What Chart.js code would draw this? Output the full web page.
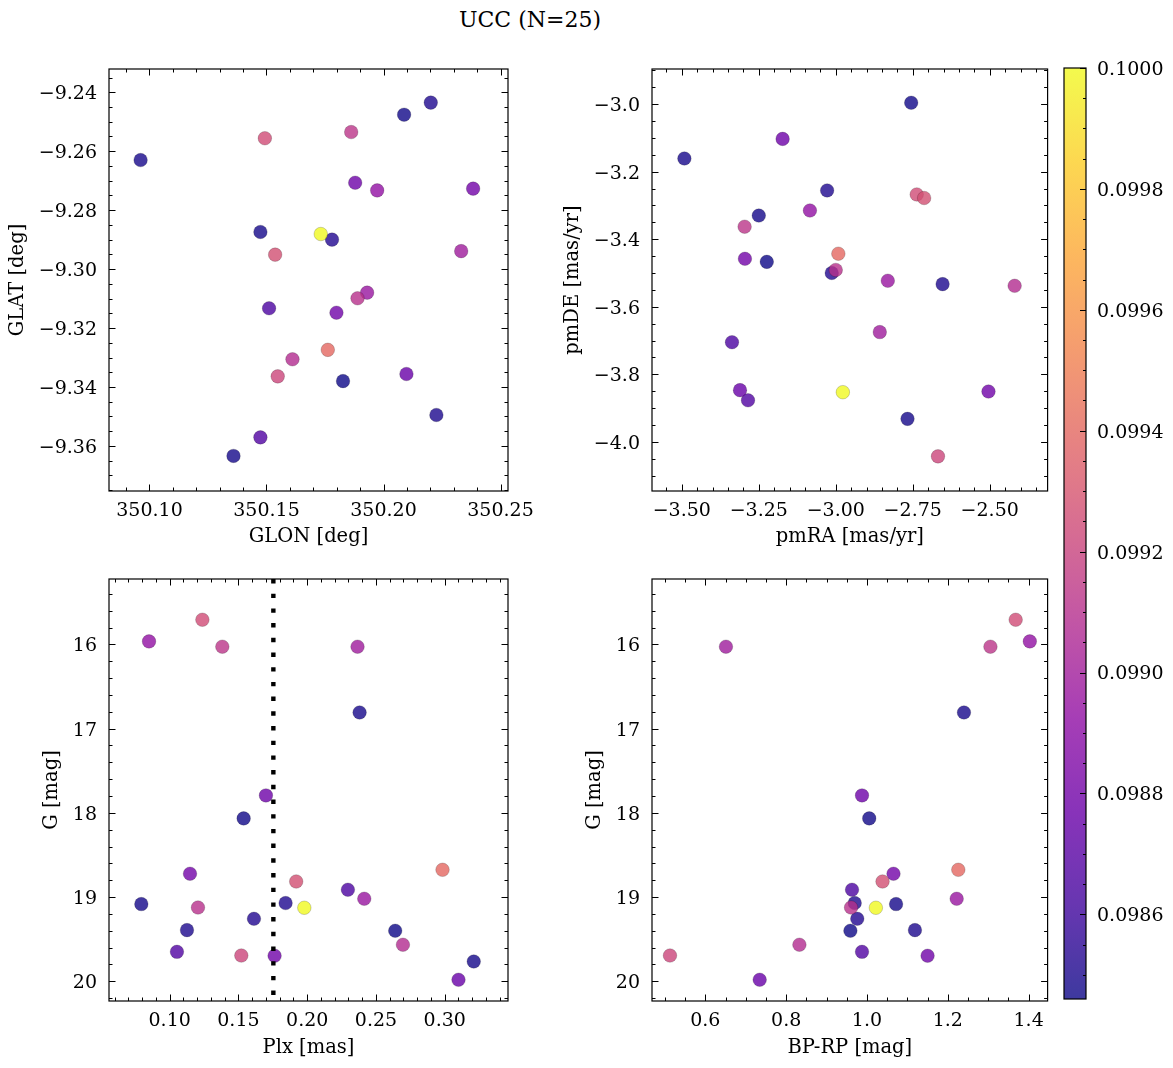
<!DOCTYPE html>
<html><head><meta charset="utf-8">
<script src="https://cdn.jsdelivr.net/npm/chart.js@4/dist/chart.umd.min.js"></script>
<style>
html,body{margin:0;padding:0;background:#fff;}
body{width:1173px;height:1068px;position:relative;overflow:hidden;}
canvas{position:absolute;}
#title{position:absolute;left:380px;width:300px;top:6px;text-align:center;font:22px 'DejaVu Serif';color:#000;line-height:28px;}
</style></head><body>
<div id="title">UCC (N=25)</div>
<canvas id="c1"></canvas>
<canvas id="c2"></canvas>
<canvas id="c3"></canvas>
<canvas id="c4"></canvas>
<canvas id="cb"></canvas>
<script>
// ---------------- DATA (one entry per star, sorted by probability) ----------------
const glon = [350.1827,350.2088,350.1474,350.1359,350.0962,350.2226,350.2202,350.1780,350.1511,350.1474,
              350.2098,350.1879,350.1799,350.2383,350.1973,350.1930,350.2332,350.1611,350.1889,350.1862,
              350.1548,350.1493,350.1537,350.1762,350.1732];
const glat = [-9.3380,-9.2476,-9.2874,-9.3634,-9.2630,-9.3495,-9.2435,-9.2900,-9.3133,-9.3571,
              -9.3356,-9.2707,-9.3148,-9.2727,-9.2733,-9.3080,-9.2939,-9.3306,-9.3099,-9.2535,
              -9.3364,-9.2556,-9.2951,-9.3274,-9.2881];
const pmra = [-3.224,-2.755,-3.250,-2.767,-3.4916,-2.653,-3.028,-3.013,-3.337,-3.285,
              -3.311,-3.1726,-2.504,-3.295,-3.0839,-2.831,-2.857,-2.419,-3.000,-3.296,
              -2.668,-2.737,-2.713,-2.9916,-2.977];
const pmde = [-3.467,-2.996,-3.330,-3.932,-3.161,-3.533,-3.2556,-3.500,-3.705,-3.877,
              -3.847,-3.103,-3.851,-3.458,-3.315,-3.523,-3.675,-3.538,-3.491,-3.363,
              -4.043,-3.2675,-3.278,-3.443,-3.853];
const plx  = [0.2640,0.1538,0.0794,0.3211,0.2381,0.1126,0.1843,0.1613,0.2296,0.1053,
              0.3100,0.1700,0.1763,0.1148,0.0850,0.2415,0.2366,0.2696,0.1206,0.1383,
              0.1521,0.1238,0.1920,0.2984,0.1979];
const gmag = [19.400,18.066,19.083,19.765,16.808,19.392,19.071,19.258,18.913,19.650,
              19.982,17.793,19.697,18.723,15.964,19.020,16.027,19.566,19.124,16.027,
              19.694,15.707,18.815,18.676,19.127];
const bprp = [0.959,1.0056,1.072,null,1.240,1.1187,0.9697,0.976,0.963,0.9877,
              0.7345,0.9877,1.150,1.0656,1.403,1.222,0.651,0.8328,0.9606,1.3055,
              0.5125,1.368,1.0385,1.226,1.022];
const prob = [0.09846,0.09847,0.09848,0.09848,0.09849,0.09850,0.09851,0.09852,0.09865,0.09867,
              0.09876,0.09878,0.09879,0.09880,0.09893,0.09896,0.09899,0.09908,0.09911,0.09913,
              0.09922,0.09925,0.09927,0.09940,0.10000];
const plxCut = 0.1754;

// tick values and labels
const glonTicks = [350.10,350.15,350.20,350.25];
const glonTickLabels = ['350.10','350.15','350.20','350.25'];
const glatTicks = [-9.36,-9.34,-9.32,-9.30,-9.28,-9.26,-9.24];
const glatTickLabels = ['\u22129.36','\u22129.34','\u22129.32','\u22129.30','\u22129.28','\u22129.26','\u22129.24'];
const pmraTicks = [-3.50,-3.25,-3.00,-2.75,-2.50];
const pmraTickLabels = ['\u22123.50','\u22123.25','\u22123.00','\u22122.75','\u22122.50'];
const pmdeTicks = [-4.0,-3.8,-3.6,-3.4,-3.2,-3.0];
const pmdeTickLabels = ['\u22124.0','\u22123.8','\u22123.6','\u22123.4','\u22123.2','\u22123.0'];
const plxTicks = [0.10,0.15,0.20,0.25,0.30];
const plxTickLabels = ['0.10','0.15','0.20','0.25','0.30'];
const gTicks = [16,17,18,19,20];
const gTickLabels = ['16','17','18','19','20'];
const bprpTicks = [0.6,0.8,1.0,1.2,1.4];
const bprpTickLabels = ['0.6','0.8','1.0','1.2','1.4'];
const cbTicks = [0.0986,0.0988,0.0990,0.0992,0.0994,0.0996,0.0998,0.1000];
const cbTickLabels = ['0.0986','0.0988','0.0990','0.0992','0.0994','0.0996','0.0998','0.1000'];

// ---------------- STYLE ----------------
const FONT = 'DejaVu Serif';
const TICK_SIZE = 19, LABEL_SIZE = 19.5;
const ALPHA = 0.8;
const cbMin = 0.09846, cbMax = 0.1000;
const PLASMA = ['#0d0887','#41049d','#6a00a8','#8f0da4','#b12a90','#cc4778','#e16462','#f2844b','#fca636','#fcce25','#f0f921'];
function hex(h){return [parseInt(h.slice(1,3),16),parseInt(h.slice(3,5),16),parseInt(h.slice(5,7),16)];}
function plasma(t, a){
  t = Math.min(1, Math.max(0, t));
  const s = t*10, i = Math.min(9, Math.floor(s)), f = s - i;
  const c0 = hex(PLASMA[i]), c1 = hex(PLASMA[i+1]);
  const c = c0.map((v,k)=>Math.round(v + (c1[k]-v)*f));
  return `rgba(${c[0]},${c[1]},${c[2]},${a})`;
}
const colors = prob.map(p => plasma((p-cbMin)/(cbMax-cbMin), ALPHA));

// frame + inward ticks plugin
const framePlugin = {
  id: 'frame',
  afterDatasetsDraw(chart, args, o) {
    const {ctx, chartArea: a} = chart;
    ctx.save();
    ctx.strokeStyle = '#000';
    ctx.lineWidth = 1;
    const minorVals = (s, step, major) => {
      const out = [];
      const lo = Math.min(s.min, s.max), hi = Math.max(s.min, s.max);
      for (let k = Math.ceil(lo/step - 1e-9); k*step <= hi + 1e-12; k++) {
        const v = k*step;
        if (!major.some(m => Math.abs(m - v) < step*1e-3)) out.push(v);
      }
      return out;
    };
    const drawX = (vals, len) => {
      const s = chart.scales.x;
      vals.forEach(v => {
        const p = Math.round(s.getPixelForValue(v)) + 0.5;
        if (p < a.left || p > a.right) return;
        ctx.beginPath();
        ctx.moveTo(p, a.bottom); ctx.lineTo(p, a.bottom - len);
        ctx.moveTo(p, a.top); ctx.lineTo(p, a.top + len);
        ctx.stroke();
      });
    };
    const drawY = (vals, len, sides) => {
      const s = chart.scales.y;
      vals.forEach(v => {
        const p = Math.round(s.getPixelForValue(v)) + 0.5;
        if (p < a.top || p > a.bottom) return;
        ctx.beginPath();
        if (sides.includes('left')) { ctx.moveTo(a.left, p); ctx.lineTo(a.left + len, p); }
        if (sides.includes('right')) { ctx.moveTo(a.right, p); ctx.lineTo(a.right - len, p); }
        ctx.stroke();
      });
    };
    if (o.xMajor) {
      drawX(o.xMajor, 6.5);
      drawX(minorVals(chart.scales.x, o.xMinor, o.xMajor), 3.5);
    }
    if (o.yMajor) {
      const sides = o.ySides || ['left','right'];
      drawY(o.yMajor, o.yMajorLen || 6.5, sides);
      drawY(minorVals(chart.scales.y, o.yMinor, o.yMajor), o.yMinorLen || 3.5, sides);
    }
    ctx.lineWidth = 1.2;
    ctx.strokeRect(a.left, a.top, a.right - a.left, a.bottom - a.top);
    ctx.restore();
  }
};

function axisTicks(vals, labels, pad, offset) {
  return {
    afterBuildTicks: s => { s.ticks = vals.map(v => ({value: v})); },
    ticks: {
      autoSkip: false, maxRotation: 0, minRotation: 0, padding: pad, color: '#000',
      labelOffset: offset || 0,
      font: {family: FONT, size: TICK_SIZE},
      callback: (v, i) => labels[i]
    }
  };
}

function makePanel(id, g, xs, ys, datasets, frameOpts) {
  const c = document.getElementById(id);
  c.width = g.w; c.height = g.h;
  c.style.left = g.left + 'px'; c.style.top = g.top + 'px';
  const lh = LABEL_SIZE * 1.2;
  const yAxisW = g.area.l - g.left;
  const xAxisH = (g.top + g.h) - g.area.b;
  new Chart(c, {
    type: 'scatter',
    data: {datasets},
    options: {
      responsive: false, animation: false, events: [],
      layout: {padding: {left: 0, top: g.area.t - g.top, right: (g.left + g.w) - g.area.r, bottom: 0}},
      plugins: {legend: {display: false}, tooltip: {enabled: false}, frame: frameOpts},
      scales: {
        x: Object.assign({
          type: 'linear', position: 'bottom', min: xs.min, max: xs.max, bounds: 'data',
          grid: {display: false, drawTicks: false}, border: {display: false},
          afterFit: s => { s.height = xAxisH; s.paddingLeft = 0; s.paddingRight = 0; },
          title: {display: true, text: xs.title, color: '#000', font: {family: FONT, size: LABEL_SIZE},
                  padding: {top: 0, bottom: ((g.top + g.h) - g.xTitleY) - lh/2}}
        }, axisTicks(xs.ticks, xs.labels, 9, 0)),
        y: Object.assign({
          type: 'linear', position: 'left', min: ys.min, max: ys.max, reverse: !!ys.reverse, bounds: 'data',
          grid: {display: false, drawTicks: false}, border: {display: false},
          afterFit: s => { s.width = yAxisW; s.paddingTop = 0; s.paddingBottom = 0; },
          title: {display: true, text: ys.title, color: '#000', font: {family: FONT, size: LABEL_SIZE},
                  padding: {top: (g.yTitleX - g.left) - lh/2, bottom: 0}}
        }, axisTicks(ys.ticks, ys.labels, 12, 2))
      }
    },
    plugins: [framePlugin]
  });
}

function scatterSet(xv, yv) {
  const pts = [], cols = [];
  xv.forEach((x, i) => {
    if (x === null || yv[i] === null) return;
    pts.push({x: x, y: yv[i]});
    cols.push(colors[i]);
  });
  return {
    type: 'scatter', data: pts, order: 1,
    pointRadius: 6.8, pointBackgroundColor: cols,
    pointBorderColor: 'rgba(0,0,0,0.3)', pointBorderWidth: 0.6
  };
}

// Panel 1: GLON / GLAT
makePanel('c1', {left: 0, top: 40, w: 560, h: 530, area: {l: 109, t: 69, r: 508, b: 491}, xTitleY: 537, yTitleX: 18},
  {min: 350.0827, max: 350.2532, ticks: glonTicks, labels: glonTickLabels, title: 'GLON [deg]'},
  {min: -9.3753, max: -9.2321, ticks: glatTicks, labels: glatTickLabels, title: 'GLAT [deg]'},
  [scatterSet(glon, glat)],
  {xMajor: glonTicks, xMinor: 0.01, yMajor: glatTicks, yMinor: 0.005});

// Panel 2: pmRA / pmDE
makePanel('c2', {left: 545, top: 40, w: 510, h: 530, area: {l: 652, t: 69, r: 1050, b: 491}, xTitleY: 537, yTitleX: 573},
  {min: -3.5968, max: -2.312, ticks: pmraTicks, labels: pmraTickLabels, title: 'pmRA [mas/yr]'},
  {min: -4.1456, max: -2.896, ticks: pmdeTicks, labels: pmdeTickLabels, title: 'pmDE [mas/yr]'},
  [scatterSet(pmra, pmde)],
  {xMajor: pmraTicks, xMinor: 0.05, yMajor: pmdeTicks, yMinor: 0.05});

// Panel 3: Plx / G
const gMin = 15.223, gMax = 20.234;
makePanel('c3', {left: 0, top: 550, w: 560, h: 518, area: {l: 109, t: 579, r: 508, b: 1001}, xTitleY: 1048, yTitleX: 52},
  {min: 0.0559, max: 0.346, ticks: plxTicks, labels: plxTickLabels, title: 'Plx [mas]'},
  {min: gMin, max: gMax, reverse: true, ticks: gTicks, labels: gTickLabels, title: 'G [mag]'},
  [{type: 'line', showLine: true, order: 0, data: [{x: plxCut, y: gMin}, {x: plxCut, y: gMax}],
    borderColor: '#000', borderWidth: 4.4, borderDash: [4.4, 10.3], pointRadius: 0, fill: false},
   scatterSet(plx, gmag)],
  {xMajor: plxTicks, xMinor: 0.01, yMajor: gTicks, yMinor: 0.2});

// Panel 4: BP-RP / G
makePanel('c4', {left: 545, top: 550, w: 510, h: 518, area: {l: 652, t: 579, r: 1050, b: 1001}, xTitleY: 1048, yTitleX: 595},
  {min: 0.468, max: 1.447, ticks: bprpTicks, labels: bprpTickLabels, title: 'BP-RP [mag]'},
  {min: gMin, max: gMax, reverse: true, ticks: gTicks, labels: gTickLabels, title: 'G [mag]'},
  [scatterSet(bprp, gmag)],
  {xMajor: bprpTicks, xMinor: 0.05, yMajor: gTicks, yMinor: 0.2});

// Colorbar
(function(){
  const c = document.getElementById('cb');
  const g = {left: 1055, top: 40, w: 118, h: 980, area: {l: 1064, t: 68, r: 1086, b: 999}};
  c.width = g.w; c.height = g.h;
  c.style.left = g.left + 'px'; c.style.top = g.top + 'px';
  new Chart(c, {
    type: 'bar',
    data: {labels: [''], datasets: [{
      data: [[cbMin, cbMax]], barPercentage: 1, categoryPercentage: 1, borderWidth: 0,
      backgroundColor: ctx => {
        const ch = ctx.chart;
        if (!ch.chartArea) return 'transparent';
        const ys = ch.scales.y;
        const grad = ch.ctx.createLinearGradient(0, ys.getPixelForValue(cbMin), 0, ys.getPixelForValue(cbMax));
        for (let k = 0; k <= 40; k++) grad.addColorStop(k/40, plasma(k/40, ALPHA));
        return grad;
      }
    }]},
    options: {
      responsive: false, animation: false, events: [],
      layout: {padding: {left: g.area.l - g.left, top: g.area.t - g.top, right: 0, bottom: (g.top + g.h) - g.area.b}},
      plugins: {legend: {display: false}, tooltip: {enabled: false},
        frame: {yMajor: cbTicks, yMinor: 0.00005, ySides: ['right'], yMajorLen: 6, yMinorLen: 3}},
      scales: {
        x: {display: false},
        y: Object.assign({
          type: 'linear', position: 'right', min: cbMin, max: cbMax, bounds: 'data',
          grid: {display: false, drawTicks: false}, border: {display: false},
          afterFit: s => { s.width = (g.left + g.w) - g.area.r; s.paddingTop = 0; s.paddingBottom = 0; }
        }, axisTicks(cbTicks, cbTickLabels, 11, 2))
      }
    },
    plugins: [framePlugin]
  });
})();
</script>
</body></html>
